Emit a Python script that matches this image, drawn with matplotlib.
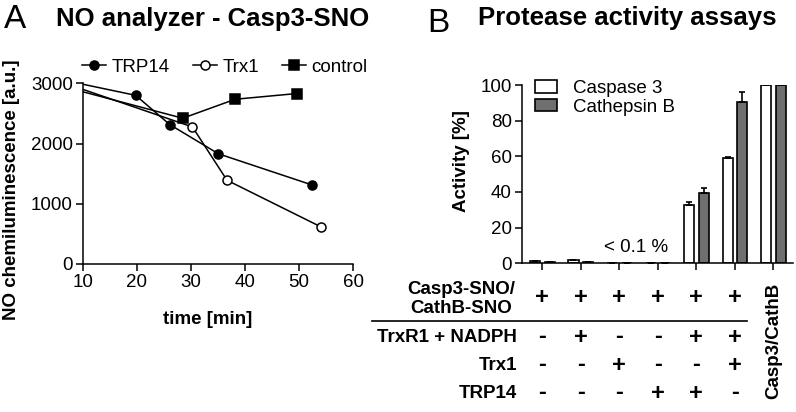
import matplotlib
matplotlib.use("Agg")
import matplotlib.pyplot as plt
import matplotlib.transforms as mtransforms
from matplotlib.lines import Line2D
import numpy as np

plt.rcParams['font.family'] = ['Liberation Sans', 'DejaVu Sans']

# Panel A: NO analyzer time course
t_trp14 = [10, 19.8, 26.1, 35.1, 52.5]
v_trp14 = [2985, 2800, 2315, 1830, 1310]
t_trx1 = [10, 30.3, 36.7, 54.1]
v_trx1 = [2900, 2275, 1390, 615]
t_ctrl = [10, 28.5, 38.2, 49.6]
v_ctrl = [2860, 2420, 2735, 2830]

# Panel B: protease activity [%]
casp3 = [1.5, 2.0, 0, 0, 32.7, 58.9, 100]
casp3_err = [0, 0, 0, 0, 1.9, 0.9, 0]
cathb = [0.5, 0.7, 0, 0, 39.6, 90.6, 100]
cathb_err = [0, 0, 0, 0, 2.8, 5.3, 0]

row_sno = ['+', '+', '+', '+', '+', '+']
row_trxr = ['-', '+', '-', '-', '+', '+']
row_trx1 = ['-', '-', '+', '-', '-', '+']
row_trp14 = ['-', '-', '-', '+', '+', '-']
row_names = ['TrxR1 + NADPH', 'Trx1', 'TRP14']

W, H = 796, 412
fig = plt.figure(figsize=(W / 100, H / 100), dpi=100)


def fx(px):
    return px / W


def fy(py):
    return 1 - py / H


FS = 13.5

# ---------------- panel A ----------------
axA = fig.add_axes([fx(82.7), fy(264), (353 - 82.7) / W, (264 - 83.3) / H])
kw = dict(color='black', lw=1.1, markersize=6.5, markeredgewidth=1.1)
axA.plot(t_trp14, v_trp14, marker='o', markevery=slice(1, None), **kw)
axA.plot(t_trx1, v_trx1, marker='o', mfc='white', markevery=slice(1, None), **kw)
axA.plot(t_ctrl, v_ctrl, marker='s', markevery=slice(1, None), **kw)
axA.set_xlim(10, 60)
axA.set_ylim(0, 3000)
axA.set_xticks(range(10, 61, 10))
axA.set_yticks([0, 1000, 2000, 3000])
for s in ['top', 'right']:
    axA.spines[s].set_visible(False)
for s in ['left', 'bottom']:
    axA.spines[s].set_linewidth(1.1)
axA.tick_params(direction='out', length=5, width=1.1, labelsize=FS, pad=2)

handles = [Line2D([], [], marker='o', **kw),
           Line2D([], [], marker='o', mfc='white', **kw),
           Line2D([], [], marker='s', **kw)]
fig.legend(handles, ['TRP14', 'Trx1', 'control'], loc='center left',
           bbox_to_anchor=(fx(82), fy(67)), ncol=3, frameon=False,
           fontsize=FS, handlelength=1.3, handletextpad=0.3,
           columnspacing=1.2, borderpad=0, borderaxespad=0)

fig.text(fx(15), fy(20), 'A', fontsize=24, ha='center', va='center')
fig.text(fx(212.5), fy(19), 'NO analyzer - Casp3-SNO', fontsize=18.5,
         fontweight='bold', ha='center', va='center')
fig.text(fx(12), fy(190), 'NO chemiluminescence [a.u.]', rotation=90,
         fontsize=FS, fontweight='bold', ha='center', va='center')
fig.text(fx(207.5), fy(320), 'time [min]', fontsize=FS,
         fontweight='bold', ha='center', va='center')

# ---------------- panel B ----------------
axB = fig.add_axes([fx(521.7), fy(263.3), (793 - 521.7) / W, (263.3 - 85) / H])
x = np.arange(len(casp3))
bw = 0.26
zeros = np.zeros(len(casp3))
axB.bar(x - 0.19, casp3, bw, color='white', edgecolor='black', linewidth=1.2,
        yerr=[zeros, casp3_err], capsize=2.5,
        error_kw=dict(elinewidth=1.2, capthick=1.2), label='Caspase 3')
axB.bar(x + 0.19, cathb, bw, color='#6f6f6f', edgecolor='black', linewidth=1.2,
        yerr=[zeros, cathb_err], capsize=2.5,
        error_kw=dict(elinewidth=1.2, capthick=1.2), label='Cathepsin B')
axB.set_xlim(-0.535, 6.51)
axB.set_ylim(0, 100)
axB.set_yticks(range(0, 101, 20))
axB.set_xticks(x)
axB.set_xticklabels([])
for s in ['top', 'right']:
    axB.spines[s].set_visible(False)
for s in ['left', 'bottom']:
    axB.spines[s].set_linewidth(1.1)
axB.tick_params(direction='out', length=5, width=1.1, labelsize=FS, pad=2)
axB.text(2.44, 8.6, '< 0.1 %', fontsize=FS, ha='center', va='center')

axB.legend(loc='upper left', bbox_to_anchor=(fx(535), fy(80)),
           bbox_transform=fig.transFigure, frameon=False, fontsize=FS,
           handlelength=1.17, handleheight=0.64, handletextpad=0.84,
           labelspacing=0.1, borderpad=0, borderaxespad=0)

fig.text(fx(438), fy(23), 'B', fontsize=24, ha='center', va='center')
fig.text(fx(627), fy(18), 'Protease activity assays', fontsize=18.5,
         fontweight='bold', ha='center', va='center')
fig.text(fx(462), fy(161.5), 'Activity [%]', rotation=90, fontsize=FS,
         fontweight='bold', ha='center', va='center')

# condition table below panel B
tr = mtransforms.blended_transform_factory(axB.transData, fig.transFigure)
rows = [row_sno, row_trxr, row_trx1, row_trp14]
row_y = [298, 337, 365, 393]
for signs, py in zip(rows, row_y):
    for xi, s in zip(x[:6], signs):
        fig.text(xi, fy(py), s, transform=tr, fontsize=17, fontweight='bold',
                 ha='center', va='center')

fig.text(fx(461), fy(299), 'Casp3-SNO/\nCathB-SNO', fontsize=FS,
         fontweight='bold', ha='center', va='center', multialignment='center',
         linespacing=1.15)
for name, py in zip(row_names, row_y[1:]):
    fig.text(fx(517), fy(py), name, fontsize=FS, fontweight='bold',
             ha='right', va='center')
fig.add_artist(Line2D([fx(372), fx(747)], [fy(320.7), fy(320.7)],
                      color='black', lw=1.2))
fig.text(x[6], fy(341), 'Casp3/CathB', transform=tr, rotation=90,
         fontsize=FS, fontweight='bold', ha='center', va='center')

fig.savefig('out.png', dpi=100)
